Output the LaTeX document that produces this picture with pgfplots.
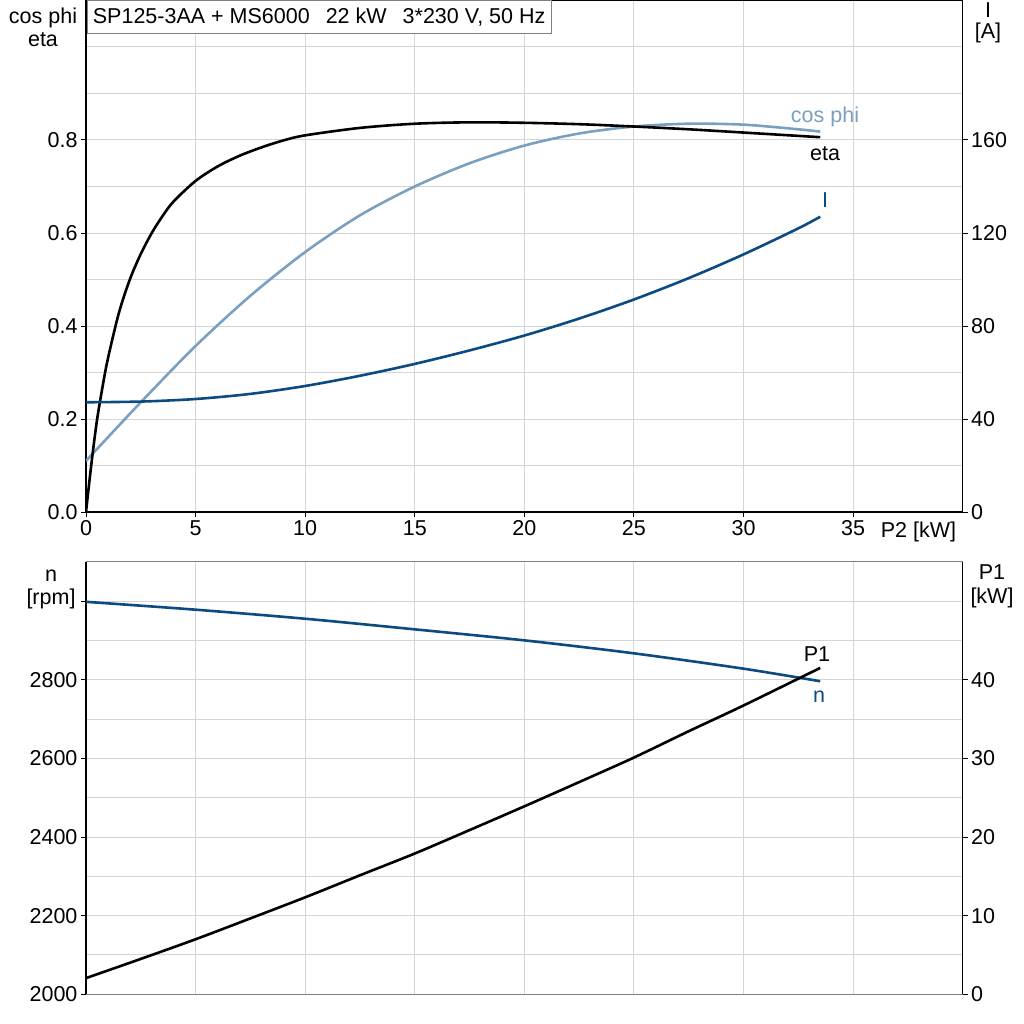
\documentclass[border=0pt]{standalone}
\usepackage{fontspec}
\setmainfont{Liberation Sans}
\usepackage{pgfplots}
\pgfplotsset{compat=1.18}
\definecolor{cosc}{RGB}{122,160,192}
\definecolor{curc}{RGB}{12,74,130}
\definecolor{gridc}{RGB}{210,212,214}
\definecolor{axgray}{RGB}{128,128,128}
\newcommand{\f}{\fontsize{21.5}{23}\selectfont}
\pgfplotsset{
  base/.style={
    scale only axis, width=876.7pt, xmin=0, xmax=40,
    tick label style={font=\f},
    /pgf/number format/assume math mode=true,
    tick align=outside, major tick length=5pt, minor tick length=0pt,
    tick style={black, line width=1pt},
    axis line style={line width=1.3pt},
  },
}
\begin{document}
\begin{tikzpicture}
\useasboundingbox (0pt,0pt) rectangle (1024pt,-1024pt);
% ---------- top panel, left axis ----------
\begin{axis}[base,
  at={(86pt,-512pt)}, anchor=south west, height=511.5pt,
  ymin=0, ymax=1.1,
  xtick={0,5,...,35}, ytick={0,0.2,0.4,0.6,0.8},
  minor ytick={0.1,0.3,0.5,0.7,0.9,1.0},
  yticklabel style={/pgf/number format/.cd, fixed, fixed zerofill, precision=1},
  grid=both, grid style={color=gridc, line width=1pt},
  tick pos=left,
]
\addplot[cosc, line width=2.6pt, smooth] coordinates {
(0,0.11) (2.5,0.236) (5,0.357) (7.5,0.465) (10,0.559) (12.5,0.638)
(15,0.700) (17.5,0.750) (20,0.788) (22.5,0.814) (25,0.829) (27.5,0.835) (30,0.833) (32.5,0.823) (33.5,0.818)};
\addplot[black, line width=2.6pt, smooth] coordinates {
(0,0) (0.25,0.105) (0.5,0.197) (0.75,0.268) (1,0.33) (1.5,0.428) (2,0.50) (2.5,0.555)
(3,0.60) (3.5,0.637) (4,0.668) (5,0.712) (6,0.743) (7,0.766) (8,0.784) (9,0.799)
(10,0.810) (12.5,0.826) (15,0.835) (17.5,0.838) (20,0.837) (22.5,0.834) (25,0.829)
(27.5,0.823) (30,0.816) (33.5,0.806)};
\end{axis}
% ---------- top panel, right axis ----------
\begin{axis}[base,
  at={(86pt,-512pt)}, anchor=south west, height=511.5pt,
  ymin=0, ymax=220,
  axis x line=none, axis y line*=right,
  ytick={0,40,80,120,160},
]
\addplot[curc, line width=2.6pt, smooth] coordinates {
(0,47.2) (2.5,47.5) (5,48.6) (7.5,50.8) (10,54.2) (12.5,58.6) (15,63.7) (17.5,69.5)
(20,75.9) (22.5,83.2) (25,91.4) (27.5,100.6) (30,110.8) (32.5,122.0) (33.5,127.0)};
\end{axis}
% ---------- bottom panel, left axis ----------
\begin{axis}[base,
  at={(86pt,-994.3pt)}, anchor=south west, height=432.6pt,
  ymin=2000, ymax=3100,
  separate axis lines,
  x axis line style={axgray, line width=1.3pt},
  y axis line style={black, line width=1.3pt},
  xtick={0,5,...,35}, xticklabels={},
  xtick style={draw=none},
  ytick={2000,2200,2400,2600,2800,3000},
  yticklabels={2000,2200,2400,2600,2800,},
  minor ytick={2100,2300,2500,2700,2900},
  grid=both, grid style={color=gridc, line width=1pt},
  ytick pos=left,
]
\addplot[curc, line width=2.6pt, smooth] coordinates {
(0,2998) (5,2978) (10,2955) (15,2928) (20,2900) (25,2867) (30,2828) (33.5,2796)};
\end{axis}
% ---------- bottom panel, right axis ----------
\begin{axis}[base,
  at={(86pt,-994.3pt)}, anchor=south west, height=432.6pt,
  ymin=0, ymax=55,
  axis x line=none, axis y line*=right,
  ytick={0,10,20,30,40},
]
\addplot[black, line width=2.6pt, smooth] coordinates {
(0,2.06) (2.5,4.5) (5,7.0) (7.5,9.65) (10,12.33) (12.5,15.13) (15,17.9) (17.5,20.88)
(20,23.9) (22.5,26.98) (25,30.1) (27.5,33.45) (30,36.72) (33.5,41.5)};
\end{axis}
% ---------- texts ----------
\node[draw=axgray, fill=white, line width=0.8pt, anchor=north west, inner xsep=6pt,
  minimum height=33pt, font=\f] at (86.5pt,0pt)
  {SP125-3AA + MS6000\hspace{16pt}22 kW\hspace{16pt}3*230 V, 50 Hz};
\node[font=\fontsize{21.5}{23}\selectfont, align=center] at (43pt,-27.5pt) {cos phi\\eta};
\node[font=\fontsize{21.5}{21}\selectfont, align=center] at (988pt,-22.5pt) {I\\{}[A]};
\node[font=\f] at (918.5pt,-531.7pt) {P2 [kW]};
\node[font=\fontsize{21.5}{23}\selectfont, align=center] at (51pt,-589.5pt) {n\\{}[rpm]};
\node[font=\fontsize{21.5}{24}\selectfont, align=center] at (992pt,-586pt) {P1\\{}[kW]};
\node[font=\f, text=cosc] at (825pt,-117pt) {cos phi};
\node[font=\f] at (825pt,-154pt) {eta};
\node[font=\f, text=curc] at (825pt,-200pt) {I};
\node[font=\f] at (817pt,-654pt) {P1};
\node[font=\f, text=curc] at (819pt,-697pt) {n};
\end{tikzpicture}
\end{document}
